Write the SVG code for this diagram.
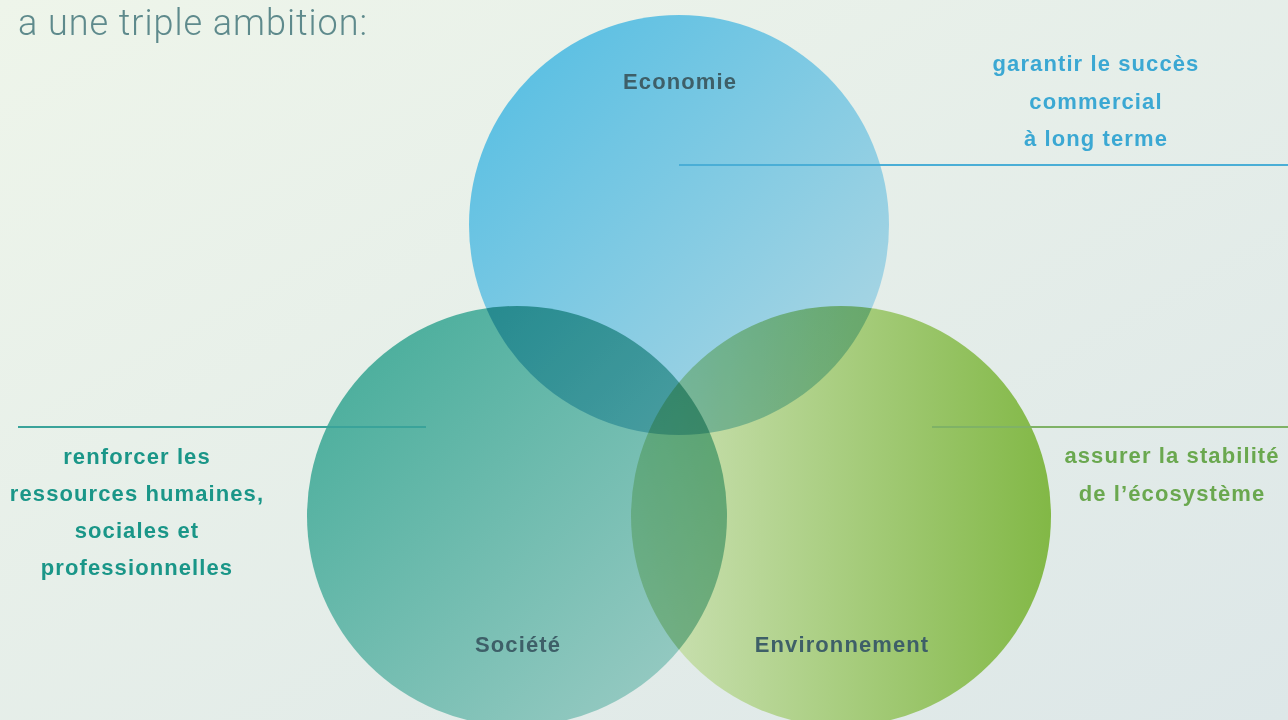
<svg xmlns="http://www.w3.org/2000/svg" width="1288" height="720" viewBox="0 0 1288 720">
<defs>
<linearGradient id="bg" x1="0" y1="0" x2="1" y2="1">
<stop offset="0" stop-color="#EEF5EA"/>
<stop offset="1" stop-color="#DDE7E8"/>
</linearGradient>
<linearGradient id="gTop" x1="0.15" y1="0.1" x2="0.9" y2="0.85">
<stop offset="0" stop-color="#5CC0E3"/>
<stop offset="1" stop-color="#A8D5E3"/>
</linearGradient>
<linearGradient id="gLeft" x1="0.1" y1="0.1" x2="0.85" y2="0.9">
<stop offset="0" stop-color="#4AAE9C"/>
<stop offset="1" stop-color="#94C9C1"/>
</linearGradient>
<linearGradient id="gRight" x1="0" y1="0" x2="1" y2="0">
<stop offset="0" stop-color="#CFE3B9"/>
<stop offset="1" stop-color="#82B846"/>
</linearGradient>
<style>
.lbl{font-family:"Liberation Sans",Arial,sans-serif;font-weight:bold;font-size:22px;letter-spacing:1.1px;text-anchor:middle}
.node{font-family:"Liberation Sans",Arial,sans-serif;font-weight:bold;font-size:22px;letter-spacing:1.1px;text-anchor:middle;fill:#3E5F68}
.c{mix-blend-mode:multiply}
.ln{stroke-width:1.8;fill:none}
</style>
</defs>
<rect width="1288" height="720" fill="url(#bg)"/>
<text x="18" y="35" font-family="Roboto,'Liberation Sans',Arial,sans-serif" font-weight="300" font-size="36" fill="#5E8A8C" textLength="349" lengthAdjust="spacing">a une triple ambition:</text>
<g style="isolation:isolate">
<g id="economie"><circle class="c" cx="679" cy="225" r="210" fill="url(#gTop)"/></g>
<g id="societe"><circle class="c" cx="517" cy="516" r="210" fill="url(#gLeft)"/></g>
<g id="environnement"><circle class="c" cx="841" cy="516" r="210" fill="url(#gRight)"/></g>
</g>
<g id="connectors">
<line class="ln" x1="679" y1="165" x2="1288" y2="165" stroke="#4AAED6"/>
<line class="ln" x1="18" y1="427" x2="426" y2="427" stroke="#3AA39A"/>
<line class="ln" x1="932" y1="427" x2="1288" y2="427" stroke="#7FB266"/>
</g>
<g id="labels-nodes">
<text class="node" x="680" y="89">Economie</text>
<text class="node" x="518" y="652">Société</text>
<text class="node" x="842" y="652">Environnement</text>
</g>
<g id="label-economie" fill="#3BA8D3">
<text class="lbl" x="1096" y="71">garantir le succès</text>
<text class="lbl" x="1096" y="109">commercial</text>
<text class="lbl" x="1096" y="146">à long terme</text>
</g>
<g id="label-societe" fill="#1A9688">
<text class="lbl" x="137" y="464">renforcer les</text>
<text class="lbl" x="137" y="501">ressources humaines,</text>
<text class="lbl" x="137" y="538">sociales et</text>
<text class="lbl" x="137" y="575">professionnelles</text>
</g>
<g id="label-environnement" fill="#6AA84F">
<text class="lbl" x="1172" y="463">assurer la stabilité</text>
<text class="lbl" x="1172" y="501">de l’écosystème</text>
</g>
</svg>
